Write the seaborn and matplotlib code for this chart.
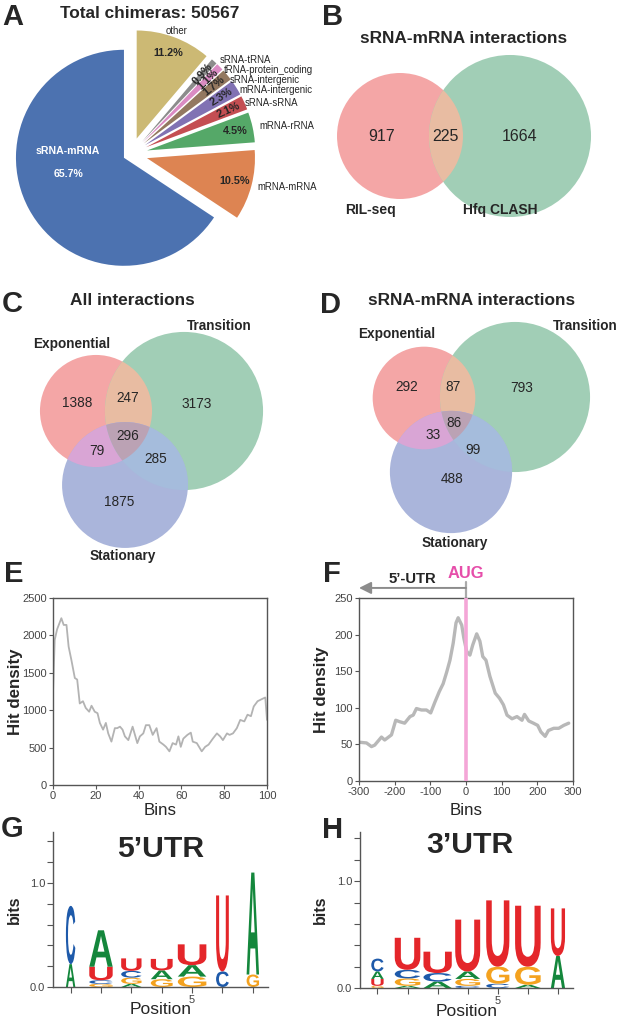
import numpy as np
import seaborn as sns
import matplotlib.pyplot as plt
from matplotlib.patches import Circle, Polygon, PathPatch
from matplotlib.textpath import TextPath
from matplotlib.font_manager import FontProperties
from matplotlib.transforms import Affine2D

W, H = 617, 1018

# ---- A: chimera types ----
pie_labels = ['sRNA-mRNA', 'mRNA-mRNA', 'mRNA-rRNA', 'sRNA-sRNA', 'mRNA-intergenic',
              'sRNA-intergenic', 'tRNA-protein_coding', 'sRNA-tRNA', 'other']
pie_pct = [65.7, 10.5, 4.5, 2.1, 2.3, 1.7, 1.1, 0.9, 11.2]
total_chimeras = 50567

# ---- B: RIL-seq vs Hfq CLASH (only first, both, only second) ----
b_names = ['RIL-seq', 'Hfq CLASH']
b_counts = [917, 225, 1664]

# ---- C / D: regions E, T, S, E&T, E&S, T&S, E&T&S ----
phase_names = ['Exponential', 'Transition', 'Stationary']
c_counts = [1388, 3173, 1875, 247, 79, 285, 296]
d_counts = [292, 793, 488, 87, 33, 99, 86]

# ---- E: hit density along mRNA bins ----
e_bins = [0, 0.8, 1.9, 3.9, 5.0, 6.3, 7.3, 8.6, 10.2, 11.3, 12.5, 14.0, 15.3, 16.9, 18.0,
          19.5, 20.8, 21.9, 23.4, 24.7, 25.8, 27.3, 28.9, 30.0, 31.3, 32.5, 33.6, 35.2,
          37.2, 38.3, 39.4, 40.6, 42.2, 43.4, 45.0, 46.6, 48.4, 49.7, 51.6, 52.8, 54.4,
          55.9, 57.5, 58.6, 59.7, 60.9, 62.8, 64.4, 65.3, 67.2, 69.5, 71.1, 72.7, 74.7,
          76.6, 78.1, 79.4, 81.3, 82.5, 84.1, 85.9, 87.5, 89.4, 90.9, 92.5, 93.8, 95.6,
          97.7, 99.2, 100]
e_hits = [1230, 1940, 2080, 2230, 2140, 2140, 1850, 1670, 1430, 1410, 1090, 1120, 1030,
          980, 1060, 980, 960, 830, 740, 830, 690, 580, 760, 760, 780, 740, 650, 600,
          780, 670, 560, 650, 690, 800, 800, 670, 760, 580, 540, 510, 450, 560, 540,
          650, 510, 620, 670, 700, 580, 560, 450, 510, 540, 620, 690, 650, 600, 690,
          670, 690, 760, 870, 850, 940, 920, 1050, 1120, 1150, 1170, 870]

# ---- F: hit density around start codon ----
f_pos = [-300, -279, -265, -256, -237, -228, -209, -197, -186, -172, -157, -148, -139,
         -125, -111, -99, -87, -75, -64, -54, -45, -36, -28, -22, -12, -6, 2, 11, 19,
         30, 39, 47, 56, 67, 82, 94, 105, 115, 129, 143, 157, 164, 176, 189, 201, 210,
         222, 231, 246, 260, 274, 288]
f_hits = [53, 52, 47, 49, 60, 56, 63, 83, 81, 79, 88, 90, 99, 97, 97, 93, 108, 122, 133,
          149, 165, 188, 216, 223, 213, 195, 177, 172, 186, 201, 191, 170, 165, 143, 120,
          113, 104, 90, 85, 88, 83, 91, 82, 79, 76, 67, 61, 69, 72, 72, 76, 79]

# ---- G / H: sequence logos (bits per base and position) ----
logo_pos = [1, 2, 3, 4, 5, 6, 7]
g5_A = [0.22, 0.35, 0.03, 0.085, 0.11, 0.00, 0.98]
g5_C = [0.56, 0.035, 0.065, 0.00, 0.00, 0.15, 0.00]
g5_G = [0.00, 0.03, 0.06, 0.075, 0.10, 0.00, 0.12]
g5_U = [0.00, 0.13, 0.12, 0.11, 0.20, 0.73, 0.00]
h3_A = [0.07, 0.02, 0.06, 0.07, 0.00, 0.03, 0.30]
h3_C = [0.12, 0.08, 0.08, 0.02, 0.04, 0.00, 0.00]
h3_G = [0.02, 0.07, 0.00, 0.065, 0.16, 0.17, 0.00]
h3_U = [0.065, 0.30, 0.20, 0.485, 0.62, 0.57, 0.445]

sns.set_theme(style='ticks')
plt.rcParams['font.family'] = ['Liberation Sans', 'DejaVu Sans']
plt.rcParams['axes.unicode_minus'] = False

fig = plt.figure(figsize=(W / 100, H / 100), dpi=100)
canvas = fig.add_axes([0, 0, 1, 1])


def Y(y):
    # pixel rows from the top -> canvas units
    return H - y


# panel letters and titles
for letter, x, y in [('A', 2, 25), ('B', 322, 25), ('C', 2, 312), ('D', 320, 313),
                     ('E', 4, 582), ('F', 323, 582), ('G', 1, 837), ('H', 322, 838)]:
    canvas.text(x, Y(y), letter, fontsize=21, fontweight='bold', ha='left', va='baseline')
canvas.text(150, Y(18), f'Total chimeras: {total_chimeras}', fontsize=12.4,
            fontweight='bold', ha='center', va='baseline')
canvas.text(464, Y(43), 'sRNA-mRNA interactions', fontsize=12.4, fontweight='bold',
            ha='center', va='baseline')
canvas.text(132, Y(305), 'All interactions', fontsize=12.4, fontweight='bold',
            ha='center', va='baseline')
canvas.text(472, Y(305), 'sRNA-mRNA interactions', fontsize=12.4, fontweight='bold',
            ha='center', va='baseline')

# ---- A: pie ----
deep = sns.color_palette('deep', 9)
explode = [8] + [16.5] * (len(pie_pct) - 1)
wedges, texts, autotexts = canvas.pie(
    pie_pct, explode=explode, labels=pie_labels, colors=deep, startangle=90,
    radius=108, center=(131, Y(154)), labeldistance=1.06, pctdistance=0.84,
    autopct=lambda p: f'{p:.1f}%', frame=True, textprops=dict(fontsize=6.9),
    wedgeprops=dict(linewidth=0))
for val, w, t in zip(pie_pct, wedges, autotexts):
    t.set_fontweight('bold')
    t.set_fontsize(7.8)
    if val < 3:
        t.set_rotation((w.theta1 + w.theta2) / 2)
texts[0].set_visible(False)
texts[-1].set_ha('center')
# spread the crowded outside labels of the thin slices
for i, (x, y) in zip(range(3, 8), [(245, 103), (239, 90), (230, 80), (224, 70), (220, 60)]):
    texts[i].set_position((x, Y(y)))
bw = wedges[0]
ang = np.deg2rad(185)
autotexts[0].set_text(f'{pie_labels[0]}\n\n{pie_pct[0]:.1f}%')
autotexts[0].set_color('white')
autotexts[0].set_fontsize(7.6)
autotexts[0].set_position((bw.center[0] + 0.52 * bw.r * np.cos(ang),
                           bw.center[1] + 0.52 * bw.r * np.sin(ang)))

# ---- Venn diagrams ----
PINK, GREEN, BLUE = '#F4A6A6', '#A1CEB6', '#AAB5DB'
PG, PB, GB, PGB = '#E8BCA2', '#D9A5D5', '#A5BCDC', '#BBA2B4'


def circle(c, r, col):
    p = Circle((c[0], Y(c[1])), r, facecolor=col, edgecolor='none')
    canvas.add_patch(p)
    return p


def clipped(base, clip, col):
    p = Circle(base.center, base.radius, facecolor=col, edgecolor='none')
    canvas.add_patch(p)
    p.set_clip_path(clip)
    return p


def triple_patch(circles, col):
    pts = []
    th = np.linspace(0, 2 * np.pi, 1440)
    for c in circles:
        cx, cy = c.center
        p = np.column_stack([cx + c.radius * np.cos(th), cy + c.radius * np.sin(th)])
        inside = np.ones(len(p), bool)
        for o in circles:
            inside &= np.hypot(p[:, 0] - o.center[0], p[:, 1] - o.center[1]) <= o.radius + 1e-6
        pts.append(p[inside])
    pts = np.vstack(pts)
    m = pts.mean(axis=0)
    pts = pts[np.argsort(np.arctan2(pts[:, 1] - m[1], pts[:, 0] - m[0]))]
    canvas.add_patch(Polygon(pts, closed=True, facecolor=col, edgecolor='none'))


# B
b_scale = 1.864
b_tot = [b_counts[0] + b_counts[1], b_counts[1] + b_counts[2]]
cb1 = circle((400, 136), b_scale * np.sqrt(b_tot[0]), PINK)
cb2 = circle((510, 136), b_scale * np.sqrt(b_tot[1]), GREEN)
clipped(cb1, cb2, PG)
for n, (x, y) in zip(b_counts, [(382, 136), (445, 136), (520, 136)]):
    canvas.text(x, Y(y), str(n), fontsize=11.5, ha='center', va='center')
for name, x in zip(b_names, [370, 500]):
    canvas.text(x, Y(210), name, fontsize=10, fontweight='bold', ha='center', va='center')


def venn3(counts, centers, scale, count_xy, name_xy):
    tot = [counts[0] + counts[3] + counts[4] + counts[6],
           counts[1] + counts[3] + counts[5] + counts[6],
           counts[2] + counts[4] + counts[5] + counts[6]]
    ce = circle(centers[0], scale * np.sqrt(tot[0]), PINK)
    ct = circle(centers[1], scale * np.sqrt(tot[1]), GREEN)
    cs = circle(centers[2], scale * np.sqrt(tot[2]), BLUE)
    clipped(ce, ct, PG)
    clipped(ce, cs, PB)
    clipped(ct, cs, GB)
    triple_patch([ce, ct, cs], PGB)
    for n, (x, y) in zip(counts, count_xy):
        canvas.text(x, Y(y), str(n), fontsize=9.8, ha='center', va='center')
    for name, (x, y) in zip(phase_names, name_xy):
        canvas.text(x, Y(y), name, fontsize=9.8, fontweight='bold', ha='center', va='baseline')


venn3(c_counts, [(96, 411), (184, 411), (125, 485)], 1.25,
      [(77, 403), (197, 404), (119, 502), (128, 398), (97, 451), (156, 459), (128, 436)],
      [(72, 348), (219, 330), (123, 560)])
venn3(d_counts, [(424, 398), (515, 397), (451, 472)], 2.3,
      [(407, 387), (522, 388), (452, 479), (453, 387), (433, 435), (473, 450), (454, 423)],
      [(397, 338), (585, 330), (455, 547)])

canvas.set_xlim(0, W)
canvas.set_ylim(0, H)
canvas.set_aspect('equal')
canvas.axis('off')


def style_axes(ax):
    ax.tick_params(direction='out', length=3, width=0.8, color='#555555', labelsize=8,
                   labelcolor='#444444', pad=1.5)
    for s in ax.spines.values():
        s.set_color('#555555')
        s.set_linewidth(1)


# ---- E ----
axE = fig.add_axes([53 / W, 1 - 785 / H, 214 / W, 187 / H])
sns.lineplot(x=e_bins, y=e_hits, ax=axE, color='#b3b3b3', linewidth=1.3)
axE.set_xlim(0, 100)
axE.set_ylim(0, 2500)
axE.set_xticks(range(0, 101, 20))
axE.set_yticks(range(0, 2501, 500))
style_axes(axE)
axE.set_ylabel('Hit density', fontsize=12.2, fontweight='bold')
axE.set_xlabel('Bins', fontsize=12.2)
axE.yaxis.set_label_coords(-0.14, 0.5)
axE.xaxis.set_label_coords(0.5, -0.096)

# ---- F ----
axF = fig.add_axes([359 / W, 1 - 781 / H, 214 / W, 183 / H])
sns.lineplot(x=f_pos, y=f_hits, ax=axF, color='#b8b8b8', linewidth=2.4)
axF.axvline(0, color='#f4a6d7', linewidth=2.6, zorder=3)
axF.set_xlim(-300, 300)
axF.set_ylim(0, 250)
axF.set_xticks(range(-300, 301, 100))
axF.set_yticks(range(0, 251, 50))
style_axes(axF)
axF.set_ylabel('Hit density', fontsize=12.2, fontweight='bold')
axF.set_xlabel('Bins', fontsize=12.2)
axF.yaxis.set_label_coords(-0.14, 0.5)
axF.xaxis.set_label_coords(0.5, -0.12)
xt = axF.get_xaxis_transform()
axF.annotate('', xy=(-300, 1.055), xytext=(0, 1.055), xycoords=xt, textcoords=xt,
             annotation_clip=False,
             arrowprops=dict(arrowstyle='-|>,head_length=0.6,head_width=0.3',
                             color='#8c8c8c', lw=1.4, shrinkA=0, shrinkB=0))
axF.plot([0, 0], [1.0, 1.09], transform=xt, color='#aaaaaa', lw=1.6, clip_on=False)
axF.text(-151, 1.082, '5’-UTR', transform=xt, fontsize=10.7, fontweight='bold',
         ha='center', va='baseline')
axF.text(0, 1.109, 'AUG', transform=xt, fontsize=11.9, fontweight='bold',
         color='#e64eaa', ha='center', va='baseline')

# ---- G / H: logos ----
base_colors = {'A': '#14873C', 'C': '#1E5AAA', 'G': '#F4A21F', 'U': '#E4262A'}
letter_font = FontProperties(family='Liberation Sans', weight='bold')


def draw_letter(ax, ch, x, y0, w, h, col):
    tp = TextPath((0, 0), ch, size=1, prop=letter_font)
    bb = tp.get_extents()
    tr = Affine2D().translate(-bb.x0, -bb.y0).scale(w / bb.width, h / bb.height) \
        .translate(x - w / 2, y0)
    ax.add_patch(PathPatch(tr.transform_path(tp), facecolor=col, edgecolor='none'))


def draw_logo(ax, heights, widths):
    for i, pos in enumerate(logo_pos):
        stack = sorted((heights[b][i], b) for b in heights if heights[b][i] > 0)
        y0 = 0
        for h, b in stack:
            draw_letter(ax, b, pos, y0, widths[i], h, base_colors[b])
            y0 += h


def style_logo(ax, ymax, lab_x):
    ax.set_facecolor('none')
    ax.set_xlim(0.42, 7.5)
    ax.set_ylim(0, ymax)
    ax.set_yticks(np.arange(0, 1.41, 0.2))
    ax.set_yticklabels(['0.0', '', '', '', '', '1.0', '', ''])
    ax.set_xticks(logo_pos)
    ax.set_xticklabels(['' if p != 5 else '5' for p in logo_pos])
    sns.despine(ax=ax)
    style_axes(ax)
    ax.tick_params(length=4)
    ax.set_ylabel('bits', fontsize=11.5, fontweight='bold')
    ax.set_xlabel('Position', fontsize=12.5)
    ax.yaxis.set_label_coords(lab_x, 0.5)
    ax.xaxis.set_label_coords(0.5, -0.1)


axG = fig.add_axes([53 / W, 1 - 987 / H, 215 / W, 155 / H])
draw_logo(axG, {'A': g5_A, 'C': g5_C, 'G': g5_G, 'U': g5_U},
          [0.31, 0.77, 0.67, 0.72, 0.94, 0.42, 0.41])
style_logo(axG, 1.49, -0.144)
axG.text(0.5, 1 - (857 - 832) / 155, '5’UTR', transform=axG.transAxes, fontsize=21.7,
         fontweight='bold', ha='center', va='baseline')

axH = fig.add_axes([360 / W, 1 - 988 / H, 213 / W, 156 / H])
draw_logo(axH, {'A': h3_A, 'C': h3_C, 'G': h3_G, 'U': h3_U},
          [0.41, 0.85, 0.94, 0.83, 0.77, 0.85, 0.47])
style_logo(axH, 1.46, -0.15)
axH.text((470 - 360) / 213, 1 - (853 - 832) / 156, '3’UTR', transform=axH.transAxes,
         fontsize=21.7, fontweight='bold', ha='center', va='baseline')

fig.savefig('out.png', dpi=100)
